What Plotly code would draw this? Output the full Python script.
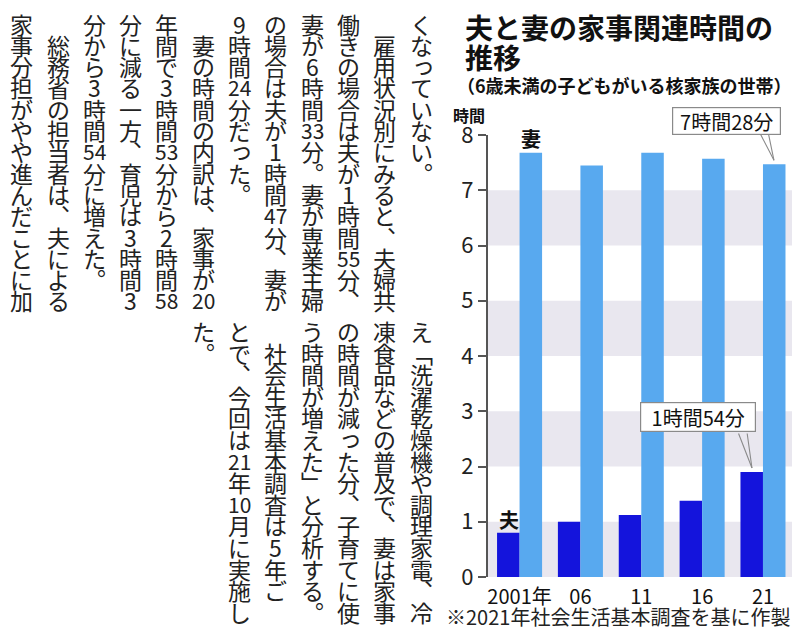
import plotly.graph_objects as go

# ---------------- data ----------------
years = ["2001年", "06", "11", "16", "21"]
husband_hours = [0.80, 1.00, 1.12, 1.38, 1.90]   # 夫
wife_hours = [7.68, 7.45, 7.68, 7.57, 7.47]      # 妻
y_ticks = [0, 1, 2, 3, 4, 5, 6, 7, 8]
band_ranges = [(0, 1), (2, 3), (4, 5), (6, 7)]

title_line1 = "夫と妻の家事関連時間の"
title_line2 = "推移"
subtitle = "（6歳未満の子どもがいる核家族の世帯）"
y_unit = "時間"
footnote = "※2021年社会生活基本調査を基に作製"
wife_callout = "7時間28分"
husband_callout = "1時間54分"

article_top = [
    "くなっていない。",
    "　雇用状況別にみると、夫婦共",
    "働きの場合は夫が1時間55分、",
    "妻が6時間33分。妻が専業主婦",
    "の場合は夫が1時間47分、妻が",
    "9時間24分だった。",
    "　妻の時間の内訳は、家事が20",
    "年間で3時間53分から2時間58",
    "分に減る一方、育児は3時間3",
    "分から3時間54分に増えた。",
    "　総務省の担当者は、夫による",
    "家事分担がやや進んだことに加",
]
article_bottom = [
    "え「洗濯乾燥機や調理家電、冷",
    "凍食品などの普及で、妻は家事",
    "の時間が減った分、子育てに使",
    "う時間が増えた」と分析する。",
    "　社会生活基本調査は5年ご",
    "とで、今回は21年10月に実施し",
    "た。",
]

# ---------------- styling ----------------
W, H = 792, 631
FONT = "Noto Sans CJK JP"
WIFE_COLOR = "#58a9ef"
HUSB_COLOR = "#1414dc"
BAND_COLOR = "#e9e7ef"
TEXT_COLOR = "#222222"

fig = go.Figure()
fig.add_trace(go.Bar(x=years, y=husband_hours, name="夫",
                     marker=dict(color=HUSB_COLOR, line=dict(width=0))))
fig.add_trace(go.Bar(x=years, y=wife_hours, name="妻",
                     marker=dict(color=WIFE_COLOR, line=dict(width=0))))

ann = []

def px(x):
    return x / W

def py(y):
    return 1 - y / H

# ---- vertical article text (each cell one annotation) ----
VERT = {"、": "︑", "。": "︒", "「": "﹁", "」": "﹂"}
SMALL = set("っゃゅょぁぃぅぇぉ")

def cells(s):
    out = []
    i = 0
    while i < len(s):
        if s[i] in "0123456789":
            j = i
            while j < len(s) and s[j] in "0123456789":
                j += 1
            out.append(s[i:j])
            i = j
        else:
            out.append(s[i])
            i += 1
    return out

def add_block(columns, x_start, col_pitch, y_start, row_pitch):
    for ci, col in enumerate(columns):
        cx = x_start - ci * col_pitch
        for ri, c in enumerate(cells(col)):
            if c == "　":
                continue
            cy = y_start + ri * row_pitch
            xs, ys = 0, 0
            size = 23
            if c in SMALL:
                xs, ys = 2, 2
            if c.isdigit() and len(c) > 1:
                size = 21
            ann.append(dict(text=VERT.get(c, c), x=px(cx), y=py(cy),
                            xref="paper", yref="paper", showarrow=False,
                            xanchor="center", yanchor="middle",
                            xshift=xs, yshift=ys,
                            font=dict(family=FONT, size=size, color=TEXT_COLOR)))

add_block(article_top, 421, 36.3, 23.5, 21.3)
add_block(article_bottom, 421, 36.3, 331, 21.6)

# ---- titles ----
ann.append(dict(text=title_line1, x=px(463), y=py(27), xref="paper", yref="paper",
                showarrow=False, xanchor="left", yanchor="middle",
                font=dict(family=FONT, size=28, color="#111111", weight="bold")))
ann.append(dict(text=title_line2, x=px(463), y=py(57), xref="paper", yref="paper",
                showarrow=False, xanchor="left", yanchor="middle",
                font=dict(family=FONT, size=28, color="#111111", weight="bold")))
ann.append(dict(text=subtitle, x=px(455), y=py(85), xref="paper", yref="paper",
                showarrow=False, xanchor="left", yanchor="middle",
                font=dict(family=FONT, size=18, color="#111111", weight="bold")))
ann.append(dict(text=y_unit, x=px(469), y=py(115), xref="paper", yref="paper",
                showarrow=False, xanchor="center", yanchor="middle",
                font=dict(family=FONT, size=16, color="#111111", weight="bold")))
ann.append(dict(text=footnote, x=px(618), y=py(616), xref="paper", yref="paper",
                showarrow=False, xanchor="center", yanchor="middle",
                font=dict(family=FONT, size=20, color=TEXT_COLOR)))

# ---- series labels (category axis -> use category index) ----
first = 0
last = len(years) - 1
ann.append(dict(text="妻", x=first, y=wife_hours[first], xref="x", yref="y",
                showarrow=False, xanchor="center", yanchor="middle",
                xshift=11, yshift=14,
                font=dict(family=FONT, size=20, color="#111111", weight="bold")))
ann.append(dict(text="夫", x=first, y=husband_hours[first], xref="x", yref="y",
                showarrow=False, xanchor="center", yanchor="middle",
                xshift=-11, yshift=13,
                font=dict(family=FONT, size=20, color="#111111", weight="bold")))

# ---- callouts ----
def callout(text, idx, val, bar_shift, box_dx, box_dy, box_w, box_h, tail):
    for (adx, ady) in tail:
        ann.append(dict(text="", x=idx, y=val, xref="x", yref="y",
                        showarrow=True, arrowhead=0, arrowwidth=1.1,
                        arrowcolor="#8a8a8a", ax=adx, ay=ady,
                        xshift=bar_shift, yshift=4))
    ann.append(dict(text=text, x=idx, y=val, xref="x", yref="y",
                    showarrow=False, xanchor="center", yanchor="middle",
                    xshift=box_dx, yshift=box_dy, width=box_w, height=box_h,
                    bgcolor="white", bordercolor="#8a8a8a", borderwidth=1.2,
                    borderpad=1,
                    font=dict(family=FONT, size=20, color="#111111")))

callout(wife_callout, last, wife_hours[last], 11, -36, 43, 105, 24,
        [(-15, -29), (-6, -29)])
callout(husband_callout, last, husband_hours[last], -11, -64.5, 55, 112, 26,
        [(-14, -36), (-5, -36)])

shapes = [dict(type="rect", xref="x domain", yref="y", x0=0, x1=1,
               y0=a, y1=b, fillcolor=BAND_COLOR, line=dict(width=0),
               layer="below") for a, b in band_ranges]

fig.update_layout(
    width=W, height=H,
    margin=dict(l=0, r=0, t=0, b=0, pad=0),
    paper_bgcolor="white", plot_bgcolor="white",
    showlegend=False,
    barmode="group", bargap=0.26, bargroupgap=0,
    annotations=ann, shapes=shapes,
    font=dict(family=FONT, color=TEXT_COLOR),
    xaxis=dict(domain=[487.5 / W, 1], range=[-0.527, 4.477],
               type="category", showline=False, ticks="", showgrid=False,
               automargin=False, ticklabelstandoff=6,
               tickfont=dict(family=FONT, size=20, color="#111111")),
    yaxis=dict(domain=[1 - 577 / H, 1 - 135 / H], range=[0, 8],
               tickvals=y_ticks, showgrid=False, zeroline=False,
               automargin=False,
               showline=True, linecolor="#555555", linewidth=1.5,
               ticks="outside", ticklen=8, tickwidth=1.5, tickcolor="#555555",
               tickfont=dict(family=FONT, size=22, color="#222222")),
)

fig.write_html("out.html", config={"displayModeBar": False},
               post_script="document.body.style.margin='0';document.body.style.overflow='hidden';")
